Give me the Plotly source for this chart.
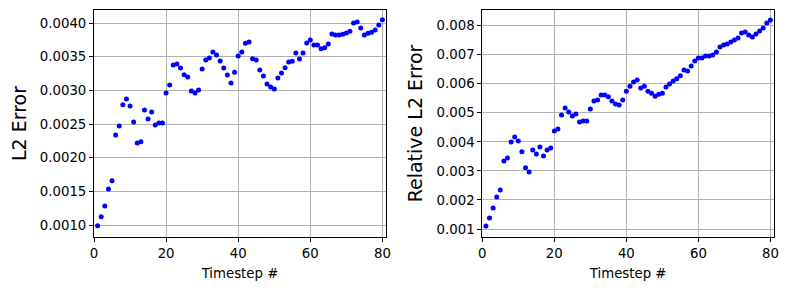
import plotly.graph_objects as go

timesteps = list(range(1, 81))

l2_error = [
    0.00099, 0.001124, 0.001282, 0.001535, 0.001658, 0.002337, 0.00247, 0.002787, 0.002871, 0.002767,
    0.00253, 0.002218, 0.002238, 0.002708, 0.002574, 0.002678, 0.002485, 0.002515, 0.002515, 0.00296,
    0.003079, 0.003376, 0.003391, 0.003332, 0.003233, 0.003198, 0.00299, 0.00296, 0.003005, 0.003317,
    0.00345, 0.00348, 0.003569, 0.003525, 0.003436, 0.003332, 0.003228, 0.003109, 0.00327, 0.00351,
    0.003569, 0.003698, 0.003718, 0.00347, 0.00345, 0.003302, 0.003213, 0.003094, 0.00305, 0.00302,
    0.003183, 0.003257, 0.003337, 0.003421, 0.003431, 0.003554, 0.003465, 0.003554, 0.003703, 0.003748,
    0.003673, 0.003673, 0.003619, 0.003634, 0.003688, 0.003837, 0.003822, 0.003822, 0.003832, 0.003851,
    0.003876, 0.0040, 0.004015, 0.003926, 0.003822, 0.003847, 0.003861, 0.003896, 0.00397, 0.00405,
]

rel_l2_error = [
    0.001103, 0.001379, 0.001723, 0.002102, 0.002343, 0.003341, 0.003444, 0.003995, 0.004167, 0.004029,
    0.003662, 0.003112, 0.002962, 0.00372, 0.003582, 0.003823, 0.003513, 0.00372, 0.003789, 0.004374,
    0.004443, 0.004925, 0.005166, 0.005028, 0.00489, 0.004959, 0.004684, 0.004718, 0.004718, 0.005131,
    0.005407, 0.005441, 0.005613, 0.005613, 0.005556, 0.005407, 0.005303, 0.005269, 0.005441, 0.005739,
    0.005912, 0.006061, 0.00613, 0.005854, 0.005912, 0.005739, 0.005671, 0.005567, 0.005636, 0.005671,
    0.005889, 0.005992, 0.006095, 0.006176, 0.006279, 0.006474, 0.00644, 0.006612, 0.006784, 0.006887,
    0.006888, 0.006957, 0.006957, 0.006991, 0.00709, 0.007267, 0.007336, 0.00737, 0.007439, 0.007508,
    0.007577, 0.007749, 0.007783, 0.00768, 0.00761, 0.007714, 0.007818, 0.007921, 0.008093, 0.008196,
]

x_ticks = [0, 20, 40, 60, 80]
left_y_ticks = [0.0010, 0.0015, 0.0020, 0.0025, 0.0030, 0.0035, 0.0040]
right_y_ticks = [0.001, 0.002, 0.003, 0.004, 0.005, 0.006, 0.007, 0.008]

FONT = "DejaVu Sans"
TICK_SIZE = 13.3
XTITLE_SIZE = 13.3
YTITLE_SIZE = 19

fig = go.Figure()
fig.add_trace(go.Scatter(x=timesteps, y=l2_error, mode="markers",
                         marker=dict(color="#0000ff", size=5, line=dict(width=0)),
                         xaxis="x", yaxis="y", showlegend=False))
fig.add_trace(go.Scatter(x=timesteps, y=rel_l2_error, mode="markers",
                         marker=dict(color="#0000ff", size=5, line=dict(width=0)),
                         xaxis="x2", yaxis="y2", showlegend=False))

W, H = 789, 290
ml, mr, mt, mb = 94, 15, 10, 53
pw = W - ml - mr
d1 = [0, (386 - ml) / pw]
d2 = [(482.3 - ml) / pw, 1]

axis_common = dict(
    showline=True, linecolor="black", linewidth=1, mirror=True,
    showgrid=True, gridcolor="#b0b0b0", gridwidth=0.8,
    ticks="outside", ticklen=4, tickcolor="black", tickwidth=1,
    tickfont=dict(family=FONT, size=TICK_SIZE, color="black"),
    zeroline=False, automargin=False,
)

fig.update_layout(
    width=W, height=H,
    margin=dict(l=ml, r=mr, t=mt, b=mb, autoexpand=False),
    paper_bgcolor="white", plot_bgcolor="white",
    font=dict(family=FONT, color="black"),
    xaxis=dict(domain=d1, range=[0, 81], tickvals=x_ticks, anchor="y",
               title=dict(text="Timestep #", font=dict(size=XTITLE_SIZE, family=FONT), standoff=8),
               **axis_common),
    yaxis=dict(domain=[0, 1], range=[0.000822, 0.004193], tickvals=left_y_ticks,
               tickformat=".4f", anchor="x",
               title=dict(text="L2 Error", font=dict(size=YTITLE_SIZE, family=FONT), standoff=8),
               **axis_common),
    xaxis2=dict(domain=d2, range=[0, 81], tickvals=x_ticks, anchor="y2",
                title=dict(text="Timestep #", font=dict(size=XTITLE_SIZE, family=FONT), standoff=8),
                **axis_common),
    yaxis2=dict(domain=[0, 1], range=[0.000725, 0.00854], tickvals=right_y_ticks,
                tickformat=".3f", anchor="x2",
                title=dict(text="Relative L2 Error", font=dict(size=YTITLE_SIZE, family=FONT), standoff=8),
                **axis_common),
)

fig.write_html("out.html", config={"displayModeBar": False},
               post_script="document.body.style.margin='0px';")
